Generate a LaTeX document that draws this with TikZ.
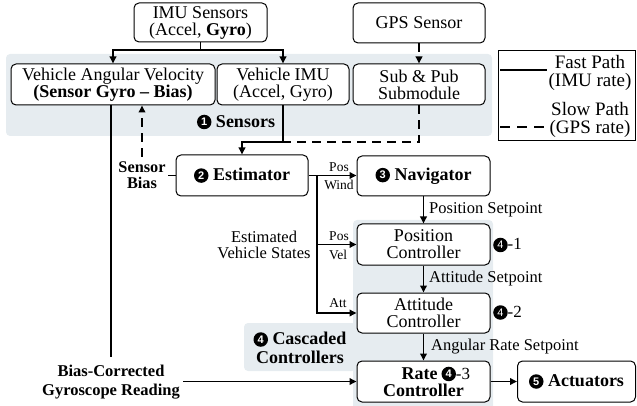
\documentclass[tikz,border=0pt]{standalone}
\usepackage{fontspec}
\setmainfont{Liberation Serif}
\setsansfont{Liberation Sans}
\usetikzlibrary{arrows.meta,calc}
\definecolor{panel}{RGB}{230,236,240}

% black circled step number
\newcommand{\bdg}[1]{\tikz[baseline=-0.62ex]\node[circle,fill=black,text=white,inner sep=0pt,minimum size=14.5pt,font=\fontsize{11}{11}\sffamily]{#1};}

\begin{document}
\begin{tikzpicture}[x=1pt,y=-1pt,
  box/.style={draw,fill=white,line width=1pt,rounded corners=5pt,align=center,inner sep=0pt,
              minimum height=40pt,font=\fontsize{18}{17}\selectfont},
  fast/.style={line width=1.8pt},
  slow/.style={line width=1.8pt,dash pattern=on 9pt off 6pt},
  tip/.style={-{Triangle[length=7pt,width=6.5pt]}},
  lbl/.style={inner sep=0pt,align=center,font=\fontsize{16.5}{16}\selectfont},
  tiny/.style={inner sep=0pt,font=\fontsize{13.5}{13}\selectfont},
  note/.style={inner sep=0pt,align=center,font=\fontsize{16.5}{15}\selectfont\bfseries},
  stepno/.style={inner sep=0pt,anchor=west,font=\fontsize{17}{17}\selectfont},
  legtext/.style={inner sep=0pt,align=center,font=\fontsize{19}{17.5}\selectfont}]
\useasboundingbox (0,0) rectangle (637,406);

% shaded groups
\fill[panel,rounded corners=4pt] (6,54) rectangle (492,136);
\fill[panel,rounded corners=4pt] (353,220) rectangle (493,410);
\fill[panel,rounded corners=4pt] (244,323) rectangle (356,371);

% sensors
\node[box,minimum width=133pt,minimum height=39pt] (imu) at (200.5,22.5) {IMU Sensors\\(Accel, \textbf{Gyro})};
\node[box,minimum width=132pt] (gps) at (419,23) {GPS Sensor};
\node[box,minimum width=204pt,minimum height=41pt] (vav) at (113,84.5) {Vehicle Angular Velocity\\\textbf{(Sensor Gyro -- Bias)}};
\node[box,minimum width=132pt,minimum height=41pt] (vimu) at (283,84.5) {Vehicle IMU\\(Accel, Gyro)};
\node[box,minimum width=132pt,minimum height=41pt] (sub) at (419,84.5) {Sub \& Pub\\Submodule};
\node[inner sep=0pt,font=\fontsize{18}{18}\selectfont\bfseries] (slab) at (236,122) {\bdg{1} Sensors};

% pipeline
\node[box,minimum width=132pt,minimum height=41pt,font=\fontsize{18}{17}\selectfont\bfseries] (est) at (242,175.5) {\bdg{2} Estimator};
\node[box,minimum width=133pt] (nav) at (423.5,176) {\textbf{\bdg{3} Navigator}};
\node[box,minimum width=133pt,minimum height=41pt] (poc) at (423.5,244.5) {Position\\Controller};
\node[box,minimum width=133pt] (att) at (423.5,313) {Attitude\\Controller};
\node[box,minimum width=133pt,minimum height=41pt,font=\fontsize{18}{17}\selectfont\bfseries] (rate) at (423.5,381.5)
  {\hspace*{-8pt}Rate\rlap{\hspace{4pt}\bdg{4}\fontsize{17}{17}\selectfont\mdseries-3}\\Controller};
\node[box,minimum width=118pt,minimum height=41pt,font=\fontsize{18}{17}\selectfont\bfseries] (act) at (576.5,381.5) {\bdg{5} Actuators};

% step numbers of the controllers
\node[stepno] (s41) at (493,245) {\bdg{4}-1};
\node[stepno] (s42) at (493,312.5) {\bdg{4}-2};
\node[inner sep=0pt,align=center,font=\fontsize{18}{19}\selectfont\bfseries] (clab) at (300,348) {\bdg{4} Cascaded\\Controllers};

% free labels
\node[note,font=\fontsize{16.3}{15.5}\selectfont\bfseries,inner sep=2pt] (sb) at (142,175) {Sensor\\Bias};
\node[note,font=\fontsize{16.5}{19.5}\selectfont\bfseries] (bcg) at (111,382) {Bias-Corrected\\Gyroscope Reading};
\node[lbl,font=\fontsize{16.5}{15.5}\selectfont] (evs) at (264,245) {Estimated\\Vehicle States};

% IMU fan-out
\coordinate (imuj) at (200.5,50);
\draw[fast] (imu.south) -- (imuj);
\draw[fast,tip] (imuj) -| (vav.north);
\draw[fast,tip] (imuj) -| (vimu.north);
\draw[slow,tip] (gps.south) -- (sub.north);

% sensor data into the estimator
\coordinate (mj) at (283,142);
\draw[fast,tip] (vimu.south) -- (mj) -| (est.north);
\draw[slow] (sub.south) |- (mj);

% bias feedback
\draw[slow] (est.west) -- (sb.east |- est.west);
\draw[slow,tip] ([yshift=3pt]sb.north) -- (sb.north |- vav.south);

% corrected gyro path to the rate controller
\draw[fast] ([xshift=-2pt]vav.south) -- ([xshift=-2pt]vav.south |- 0,357);
\draw[fast,tip] ([xshift=3pt]bcg.east |- rate.west) -- (rate.west);

% estimator outputs
\coordinate (ej) at (317,175.5);
\draw[fast,tip] (est.east) -- (est.east -| nav.west);
\draw[fast,tip] (ej) |- (poc.west);
\draw[fast,tip] (ej) |- (att.west);
\node[tiny] (p1) at (339,167) {Pos};
\node[tiny] (w1) at (339,185) {Wind};
\node[tiny] (p2) at (339,236.5) {Pos};
\node[tiny] (v2) at (338,254.5) {Vel};
\node[tiny] (a3) at (338,303.5) {Att};

% setpoint cascade
\draw[fast,tip] (nav.south) -- (poc.north);
\draw[fast,tip] (poc.south) -- (att.north);
\draw[fast,tip] (att.south) -- (rate.north);
\draw[fast,tip] (rate.east) -- (act.west);
\node[lbl,anchor=west] (ps) at (429,210) {Position Setpoint};
\node[lbl,anchor=west] (as) at (429,279) {Attitude Setpoint};
\node[lbl,anchor=west] (rs) at (431,347) {Angular Rate Setpoint};

% legend
\node[draw,line width=0.9pt,minimum width=137pt,minimum height=90pt,inner sep=0pt] (leg) at (567,95) {};
\coordinate (lf1) at (500,70);
\coordinate (lf2) at (547,70);
\coordinate (ls1) at (500,127);
\coordinate (ls2) at (547,127);
\draw[fast] (lf1) -- (lf2);
\draw[line width=1.8pt,dash pattern=on 10pt off 7pt] (ls1) -- (ls2);
\node[legtext] (lft) at (590,73) {Fast Path\\(IMU rate)};
\node[legtext] (lst) at (590,120) {Slow Path\\(GPS rate)};
\end{tikzpicture}
\end{document}
